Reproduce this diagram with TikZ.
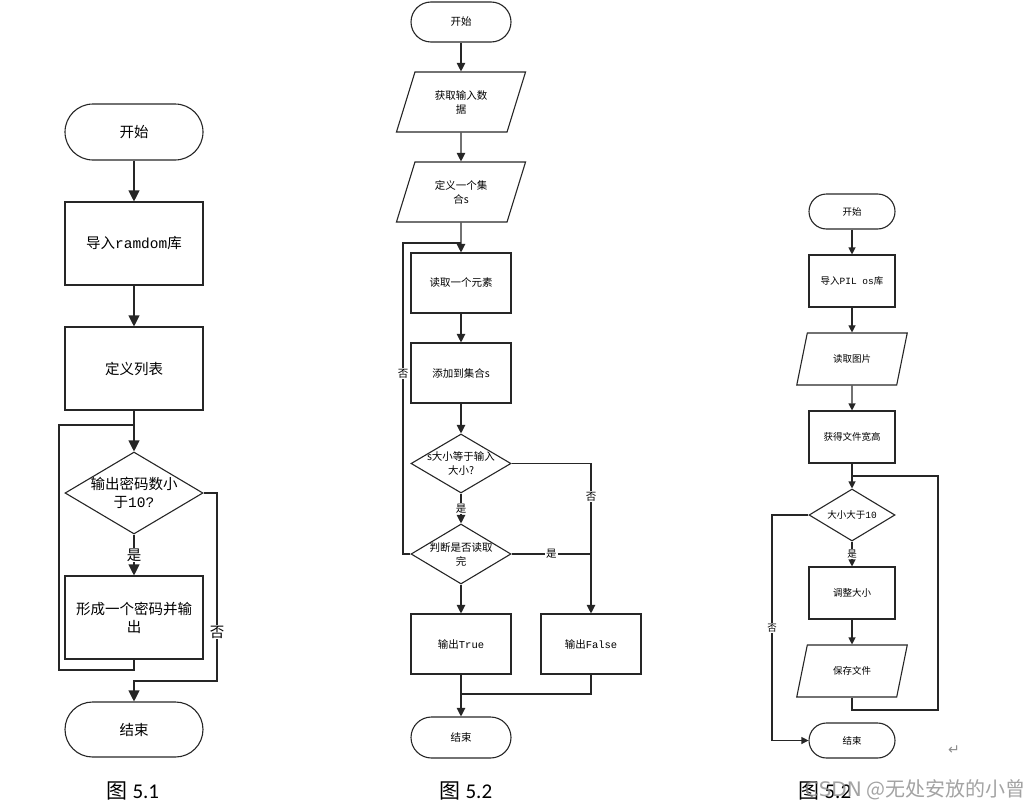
\documentclass[tikz,border=0pt]{standalone}
\usepackage{fontspec}
\setmainfont{Noto Sans CJK SC}
\setmonofont{Liberation Mono}
\newfontfamily\capfont{Carlito}
\newfontfamily\symfont{DejaVu Sans}
\usetikzlibrary{arrows.meta,shapes.geometric}

\begin{document}
\begin{tikzpicture}[x=1pt, y=-1pt,
    every node/.style={align=center, inner sep=0pt, text=black},
    wire/.style={draw=black!85, line width=1.1pt},
    flow/.style={wire, -{Triangle[length=#1, width=#1]}},
    flow/.default=11pt,
    big/.style={font=\fontsize{14.5}{18}\selectfont},
    mid/.style={font=\fontsize{10.5}{14}\selectfont},
    small/.style={font=\fontsize{9.5}{12}\selectfont},
    terminal/.style={rectangle, wire},
    process/.style={rectangle, wire},
    decision/.style={diamond, wire},
    inout/.style={trapezium, trapezium left angle=#1, trapezium right angle=180-#1,
      trapezium stretches=true, wire},
    yesno/.style={fill=white, inner sep=1pt}]
  \useasboundingbox (0,0) rectangle (1035,808);

  % chart 5.1
  \node[terminal, big, rounded corners=28pt, minimum width=138pt, minimum height=56pt] (s1) at (134,132) {开始};
  \node[process, big, minimum width=138pt, minimum height=83pt] (r1) at (134,243.5) {导入\texttt{ramdom}库};
  \node[process, big, minimum width=138pt, minimum height=83pt] (l1) at (134,368.5) {定义列表};
  \node[decision, minimum width=138pt, minimum height=82pt,
        label={[big]center:输出密码数小\\于\texttt{10?}}] (d1) at (134,493) {};
  \node[process, big, minimum width=138pt, minimum height=83pt] (p1) at (134,617.5) {形成一个密码并输\\出};
  \node[terminal, big, rounded corners=27.5pt, minimum width=138pt, minimum height=55pt] (e1) at (134,729.5) {结束};
  \coordinate (j1) at (134,425);
  \coordinate (b1) at (59,670);
  \coordinate (n1) at (217,681);

  \draw[flow] (s1) -- (r1);
  \draw[flow] (r1) -- (l1);
  \draw[flow] (l1) -- (d1);
  \draw[flow] (d1) -- node[yesno, big] {是} (p1);
  \draw[wire] (p1.south) |- (b1) |- (j1);
  \draw[flow] (d1.east) -| node[pos=0.87, yesno, big] {否} (n1) -| (e1.north);

  % chart 5.2
  \node[terminal, mid, rounded corners=20pt, minimum width=100pt, minimum height=40pt] (s2) at (461,22) {开始};
  \node[inout=66, mid, minimum width=130pt, minimum height=60pt] (g2) at (461,102) {获取输入数\\据};
  \node[inout=66, mid, minimum width=130pt, minimum height=60pt] (f2) at (461,192) {定义一个集\\合s};
  \node[process, mid, minimum width=100pt, minimum height=60pt] (q2) at (461,283) {读取一个元素};
  \node[process, mid, minimum width=100pt, minimum height=60pt] (a2) at (461,373) {添加到集合s};
  \node[decision, minimum width=100pt, minimum height=59pt,
        label={[mid]center:s大小等于输入\\大小?}] (d2) at (461,463.5) {};
  \node[decision, minimum width=100pt, minimum height=60pt,
        label={[mid]center:判断是否读取\\完}] (k2) at (461,554) {};
  \node[process, mid, minimum width=100pt, minimum height=60pt] (t2) at (461,644) {输出\texttt{True}};
  \node[process, mid, minimum width=100pt, minimum height=60pt] (fa2) at (591,644) {输出\texttt{False}};
  \node[terminal, mid, rounded corners=20.5pt, minimum width=100pt, minimum height=41pt] (e2) at (461,737.5) {结束};
  \coordinate (j2) at (461,243);
  \coordinate (w2) at (403,554);
  \coordinate (r2) at (591,554);
  \coordinate (m2) at (461,694);

  \draw[flow=8.5pt] (s2) -- (g2);
  \draw[flow=8.5pt] (g2) -- (f2);
  \draw[flow=8.5pt] (f2) -- (q2);
  \draw[flow=8.5pt] (q2) -- (a2);
  \draw[flow=8.5pt] (a2) -- (d2);
  \draw[flow=8.5pt] (d2) -- node[yesno, mid] {是} (k2);
  \draw[wire] (k2.west) -- (w2) |- node[pos=0.29, yesno, mid] {否} (j2);
  \draw[flow=8.5pt] (d2.east) -| node[pos=0.61, yesno, mid] {否} (fa2.north);
  \draw[wire] (k2.east) -- node[yesno, mid] {是} (r2);
  \draw[flow=8.5pt] (k2) -- (t2);
  \draw[flow=8.5pt] (t2) -- (e2);
  \draw[wire] (fa2.south) |- (m2);

  % chart 5.3
  \node[terminal, small, rounded corners=17.5pt, minimum width=86pt, minimum height=35pt] (s3) at (852,211.5) {开始};
  \node[process, small, minimum width=86pt, minimum height=52pt] (i3) at (852,281) {导入\texttt{PIL os}库};
  \node[inout=63, small, minimum width=111pt, minimum height=52pt] (r3) at (852,359) {读取图片};
  \node[process, small, minimum width=86pt, minimum height=52pt] (h3) at (852,437) {获得文件宽高};
  \node[decision, minimum width=86pt, minimum height=52pt,
        label={[small]center:大小大于\texttt{10}}] (d3) at (852,515) {};
  \node[process, small, minimum width=86pt, minimum height=52pt] (z3) at (852,593) {调整大小};
  \node[inout=63, small, minimum width=111pt, minimum height=52pt] (v3) at (852,671) {保存文件};
  \node[terminal, small, rounded corners=17.5pt, minimum width=86pt, minimum height=35pt] (e3) at (852,740.5) {结束};
  \coordinate (j3) at (852,476);
  \coordinate (b3) at (938,710);
  \coordinate (c3) at (772,740.5);

  \draw[flow=7pt] (s3) -- (i3);
  \draw[flow=7pt] (i3) -- (r3);
  \draw[flow=7pt] (r3) -- (h3);
  \draw[flow=7pt] (h3) -- (d3);
  \draw[flow=7pt] (d3) -- node[yesno, small] {是} (z3);
  \draw[flow=7pt] (z3) -- (v3);
  \draw[wire] (v3.south) |- (b3) |- (j3);
  \draw[flow=7pt] (d3.west) -| node[pos=0.75, yesno, small] {否} (c3) -- (e3);

  % captions
  \node[font=\fontsize{21}{24}\selectfont] (c51) at (133,791) {图 {\capfont 5.1}};
  \node[font=\fontsize{21}{24}\selectfont] (c52) at (466,791) {图 {\capfont 5.2}};
  \node[font=\fontsize{21}{24}\selectfont] (c53) at (825,791) {图 {\capfont 5.2}};
  \node[font=\fontsize{20}{24}\selectfont, text=black!45, opacity=0.8] (wm) at (915,790) {{\symfont CSDN} @无处安放的小曾};
  \node[font=\fontsize{14}{16}\selectfont\symfont, text=black!45] (ret) at (954,750) {↵};
\end{tikzpicture}
\end{document}
